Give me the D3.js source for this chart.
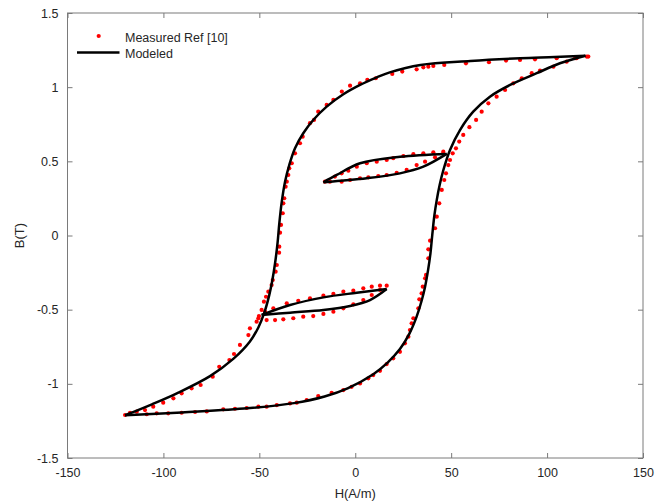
<!DOCTYPE html>
<html>
<head>
<meta charset="utf-8">
<script src="https://cdn.jsdelivr.net/npm/d3@7"></script>
<style>
  body { margin: 0; background: #fff; }
  svg text { font-family: "Liberation Sans", Arial, Helvetica, sans-serif; fill: #262626; }
</style>
</head>
<body>
<div id="chart"></div>
<script>
// tick labels
const xTicks = [-150, -100, -50, 0, 50, 100, 150];
const yTicks = [-1.5, -1, -0.5, 0, 0.5, 1, 1.5];

// measured points [H, B]
const measDesc = [
  [121.5,1.206],[114.6,1.195],[105,1.195],[93.7,1.188],[85.9,1.183],[78.6,1.179],[69.7,1.168],
  [57.7,1.161],[46.4,1.15],[40.7,1.143],[38.1,1.138],[35.5,1.134],[32,1.12],[24.5,1.105],
  [19.3,1.089],[10.7,1.06],[6.3,1.049],[2.5,1.026],[-2.7,1.01],[-7,0.97],[-11.4,0.914],
  [-14.9,0.88],[-19.3,0.835],[-21.5,0.779],[-23.6,0.757],[-27.4,0.666],[-28.8,0.622],
  [-31.4,0.554],[-33.1,0.487],[-34.4,0.453],[-34.9,0.408],[-35.7,0.363],[-36.3,0.329],
  [-37,0.251],[-37.5,0.217],[-37.8,0.15],[-38.7,0.071],[-39.2,0.019],[-39.6,-0.075],
  [-39.7,-0.116],[-40.9,-0.199],[-41.5,-0.244],[-43,-0.3],[-43.6,-0.334],[-45.3,-0.379],
  [-46.5,-0.413],[-47.6,-0.446],[-48.8,-0.502],[-50.2,-0.543],[-51.4,-0.581],[-54.9,-0.626],
  [-55.7,-0.671],[-60.1,-0.738],[-63.2,-0.799],[-65.6,-0.84],[-70.9,-0.885],[-74.3,-0.952],
  [-80.6,-1.008],[-85.3,-1.03],[-90.5,-1.064],[-94.8,-1.098],[-100.1,-1.127],[-105.3,-1.154],
  [-109.6,-1.177],[-113.9,-1.188],[-117.4,-1.195],[-120,-1.21]
];
const measAsc = [
  [-108.7,-1.205],[-103.5,-1.199],[-97.5,-1.199],[-90.5,-1.195],[-83.5,-1.19],[-77.4,-1.186],
  [-68.8,-1.172],[-62.7,-1.168],[-56.6,-1.163],[-50.5,-1.154],[-46.2,-1.154],[-40.9,-1.143],
  [-34,-1.132],[-30.5,-1.127],[-25.3,-1.109],[-19.3,-1.082],[-12.3,-1.06],[-6.2,-1.042],
  [-1.9,-1.02],[2.5,-0.997],[6.8,-0.963],[9.4,-0.941],[12.9,-0.912],[16.4,-0.867],
  [19.8,-0.828],[23.3,-0.784],[25.9,-0.727],[27.7,-0.682],[28.5,-0.637],[29.4,-0.592],
  [30.3,-0.558],[32.9,-0.491],[33.4,-0.43],[34.6,-0.39],[35.2,-0.345],[36.4,-0.289],
  [36.9,-0.266],[38.1,-0.154],[38.1,-0.093],[39,-0.035],[41.6,0.049],[42.5,0.127],
  [43.8,0.217],[45.1,0.307],[46.4,0.374],[47.3,0.419],[48.5,0.475],[49.4,0.509],
  [50.8,0.554],[52.5,0.588],[54.2,0.633],[56.3,0.678],[59.5,0.73],[63,0.779],[65.9,0.835],
  [69.4,0.891],[73.7,0.936],[78.1,0.981],[82.4,1.026],[86.8,1.06],[92,1.094],[96.3,1.111],
  [103.3,1.138],[110.2,1.172],[115.4,1.195],[120.7,1.206]
];
const measUpLoop = [
  [-15.8,0.363],[-10.6,0.397],[-7.1,0.419],[-3.6,0.437],[0.8,0.464],[6,0.487],[11.2,0.498],
  [16.4,0.509],[19.8,0.521],[25.1,0.536],[30.3,0.548],[35.5,0.554],[40.7,0.561],[45.9,0.565],
  [-13.2,0.363],[-7.1,0.363],[-2.7,0.374],[2.5,0.386],[6.8,0.392],[12,0.401],[16.4,0.408],
  [21.6,0.423],[26.8,0.442],[32,0.475],[36.4,0.498],[41.6,0.527],[45.9,0.554]
];
const measLowLoop = [
  [-47,-0.514],[-42.7,-0.491],[-35.7,-0.457],[-29.7,-0.44],[-23.6,-0.424],[-16.6,-0.406],
  [-11.4,-0.394],[-6.2,-0.379],[-1,-0.372],[4.2,-0.356],[8.6,-0.345],[12.9,-0.338],[16.4,-0.338],
  [-50.5,-0.558],[-46.2,-0.57],[-41.8,-0.57],[-37.5,-0.565],[-32.3,-0.558],[-27.1,-0.547],
  [-21.9,-0.543],[-16.6,-0.529],[-11.4,-0.514],[-6.2,-0.491],[-1,-0.464],[4.2,-0.435],
  [8.6,-0.401],[12.9,-0.367]
];

// modeled branches [H, B]
const modelDesc = [
  [120,1.212],[104,1.203],[86,1.195],[60,1.177],[34,1.15],[18,1.1],[11.2,1.066],[2.5,1.015],
  [-6.2,0.952],[-14.9,0.869],[-21.9,0.779],[-27.1,0.689],[-31.4,0.588],[-34.4,0.475],
  [-36.6,0.363],[-38.3,0.228],[-39.6,0.08],[-40.5,-0.05],[-41.8,-0.187],[-43.2,-0.3],
  [-44.8,-0.4],[-47.4,-0.52],[-50.5,-0.62],[-55,-0.716],[-63.6,-0.832],[-75.7,-0.948],
  [-93,-1.064],[-106,-1.138],[-120,-1.212]
];
const modelAsc = [
  [-120,-1.212],[-93,-1.195],[-58,-1.167],[-32,-1.13],[-16,-1.085],[-4,-1.03],[9.4,-0.935],
  [17,-0.855],[23.3,-0.766],[28.3,-0.66],[32,-0.547],[34.6,-0.44],[36.4,-0.345],[38,-0.23],
  [39.2,-0.12],[40.4,0.037],[41.3,0.14],[42.5,0.24],[44,0.34],[45.9,0.44],[49.4,0.577],
  [54.6,0.711],[61.5,0.835],[70.2,0.936],[80.7,1.015],[94.6,1.094],[106.7,1.161],[120,1.212]
];
const modelUpLoopTop = [[-16.6,0.359],[-9.7,0.408],[2.5,0.487],[23.3,0.531],[47.7,0.55]];
const modelUpLoopBot = [[-16.6,0.359],[6,0.386],[23.3,0.419],[35.5,0.464],[47.7,0.55]];
const modelLowLoopTop = [[-48.8,-0.536],[-34,-0.469],[-16.6,-0.417],[0.8,-0.386],[16.4,-0.361]];
const modelLowLoopBot = [[-48.8,-0.536],[-34,-0.52],[-16.6,-0.502],[-2.7,-0.475],[7.7,-0.435],[16.4,-0.361]];

const W = 670, H = 504;
const margin = {top: 13, right: 27, bottom: 46, left: 67.5};
const width = W - margin.left - margin.right,
      height = H - margin.top - margin.bottom;

const svg = d3.select("#chart").append("svg")
  .attr("width", W).attr("height", H);
const g = svg.append("g")
  .attr("transform", "translate(" + margin.left + "," + margin.top + ")");

const x = d3.scaleLinear().domain([-150, 150]).range([0, width]);
const y = d3.scaleLinear().domain([-1.5, 1.5]).range([height, 0]);

// measured dots
const allMeas = [].concat(measDesc, measAsc, measUpLoop, measLowLoop);
g.append("g").selectAll("circle")
  .data(allMeas)
  .join("circle")
  .attr("cx", d => x(d[0]))
  .attr("cy", d => y(d[1]))
  .attr("r", 2.1)
  .style("fill", "#ff0000");

// modeled lines
const line = d3.line()
  .x(d => x(d[0])).y(d => y(d[1]))
  .curve(d3.curveCatmullRom.alpha(0.5));
[modelDesc, modelAsc, modelUpLoopTop, modelUpLoopBot, modelLowLoopTop, modelLowLoopBot]
  .forEach(b => {
    g.append("path")
      .attr("d", line(b))
      .style("fill", "none")
      .style("stroke", "#000")
      .style("stroke-width", 2.5)
      .style("stroke-linejoin", "round");
  });

// axes (box with inward ticks on all sides)
const axisColor = "#7a7a7a";
const plain = d => String(d);   // hyphen minus like the original
function styleAxis(sel) {
  sel.select(".domain").remove();
  sel.selectAll(".tick line").attr("stroke", axisColor);
  sel.selectAll(".tick text").style("font-size", "12.5px").attr("fill", "#262626");
}
g.append("g")
  .attr("transform", "translate(0," + height + ")")
  .call(d3.axisBottom(x).tickValues(xTicks).tickSize(-5).tickPadding(10).tickFormat(plain))
  .call(styleAxis);
g.append("g")
  .call(d3.axisTop(x).tickValues(xTicks).tickSize(-5).tickFormat(""))
  .call(styleAxis);
g.append("g")
  .call(d3.axisLeft(y).tickValues(yTicks).tickSize(-5).tickPadding(9).tickFormat(plain))
  .call(styleAxis);
g.append("g")
  .attr("transform", "translate(" + width + ",0)")
  .call(d3.axisRight(y).tickValues(yTicks).tickSize(-5).tickFormat(""))
  .call(styleAxis);
g.append("rect")
  .attr("width", width).attr("height", height)
  .style("fill", "none").style("stroke", axisColor).style("stroke-width", 1);

// axis labels
svg.append("text")
  .attr("x", margin.left + width / 2).attr("y", 498)
  .attr("text-anchor", "middle")
  .style("font-size", "13px")
  .text("H(A/m)");
svg.append("text")
  .attr("transform", "translate(24," + (margin.top + height / 2) + ") rotate(-90)")
  .attr("text-anchor", "middle")
  .style("font-size", "13px")
  .text("B(T)");

// legend
const leg = svg.append("g");
leg.append("circle").attr("cx", 98.7).attr("cy", 36).attr("r", 2.1).style("fill", "#ff0000");
leg.append("line").attr("x1", 77).attr("x2", 119.5).attr("y1", 52.5).attr("y2", 52.5)
  .style("stroke", "#000").style("stroke-width", 2.5);
leg.append("text").attr("x", 125).attr("y", 42).style("font-size", "12.5px").text("Measured Ref [10]");
leg.append("text").attr("x", 125).attr("y", 57.5).style("font-size", "12.5px").text("Modeled");
</script>
</body>
</html>
